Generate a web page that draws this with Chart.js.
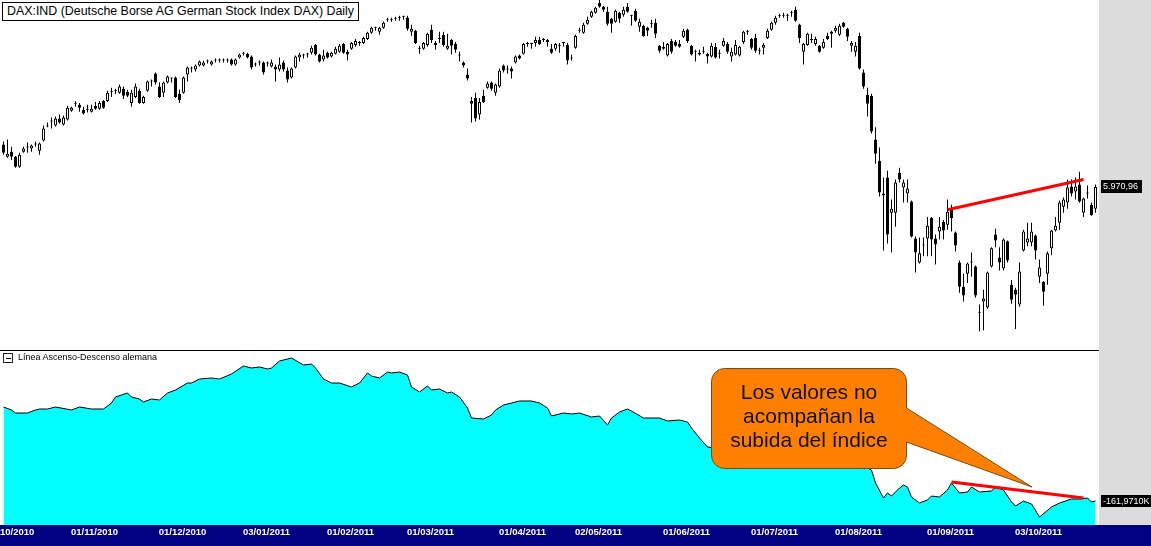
<!DOCTYPE html>
<html>
<head>
<meta charset="utf-8">
<script src="https://cdn.jsdelivr.net/npm/chart.js@4.4.0/dist/chart.umd.min.js"></script>
<style>
  html, body { margin: 0; padding: 0; background: #fff; }
  body { position: relative; width: 1151px; height: 546px; overflow: hidden; font-family: "Liberation Sans", Arial, sans-serif; }
  #side { position: absolute; left: 1099px; top: 0; width: 52px; height: 525px; background: #dcdcdc; }
  #axisband { position: absolute; left: 0; top: 525px; width: 1151px; height: 21px; background: #000080; }
  #sep { position: absolute; left: 0; top: 350px; width: 1099px; height: 1px; background: #000; }
  canvas { position: absolute; left: 0; }
  #price { top: 0; }
  #breadth { top: 351px; }
  #title { position: absolute; left: 2px; top: 2px; width: 357px; height: 19px; box-sizing: border-box;
           border: 1px solid #000; background: #fff; font-size: 12.4px; line-height: 17px; padding-left: 4px; color: #000; white-space: nowrap; }
  #legend { position: absolute; left: 3px; top: 352px; font-size: 9px; line-height: 11px; color: #000; white-space: nowrap; }
  #legend .box { position: absolute; left: 0; top: 1px; width: 10px; height: 10px; box-sizing: border-box; border: 1px solid #222; }
  #legend .box::after { content: ""; position: absolute; left: 2px; top: 4px; width: 5px; height: 1px; background: #000; }
  #legend .txt { position: absolute; left: 15px; top: 0; }
  #callout { position: absolute; left: 0; top: 0; }
  #callout-text { position: absolute; left: 711px; top: 368px; width: 196px; height: 100px; box-sizing: border-box;
                  padding-top: 12px; text-align: center; font-size: 21px; line-height: 24px; color: #111; }
</style>
</head>
<body>
<div id="side"></div>
<div id="axisband"></div>
<div id="sep"></div>
<canvas id="price" width="1151" height="350"></canvas>
<canvas id="breadth" width="1151" height="195"></canvas>
<div id="title">DAX:IND (Deutsche Borse AG German Stock Index DAX) Daily</div>
<div id="legend"><span class="box"></span><span class="txt">Línea Ascenso-Descenso alemana</span></div>
<svg id="callout" width="1151" height="546">
  <rect x="711.5" y="368.5" width="195" height="100" rx="13" ry="13" fill="#ff8000" stroke="#7a4a14" stroke-width="1"/>
  <polygon points="900,403.9 1032,487 900,439.7" fill="#ff8000"/>
  <line x1="906.5" y1="408" x2="1032" y2="487" stroke="#7a4a14" stroke-width="1"/>
  <line x1="906.5" y1="442" x2="1032" y2="487" stroke="#7a4a14" stroke-width="1"/>
</svg>
<div id="callout-text">Los valores no<br>acompañan la<br>subida del índice</div>

<script>
// ── DAX daily candles + German advance/decline line, Sep 2010 – Oct 2011 ──────

// trading days (weekdays, minus the Xetra holidays in the window)
const holidays = ['2010-12-24', '2010-12-31', '2011-04-22', '2011-04-25'];

const opens = [
  6309, 6209, 6251, 6209, 6130, 6251, 6284, 6276, 6309, 6259, 6342, 6459, 6501, 6467, 6526, 6476, 6517, 6592, 6651, 6642,
  6600, 6600, 6584, 6634, 6609, 6676, 6676, 6756, 6765, 6747, 6783, 6756, 6659, 6711, 6765, 6659, 6765, 6846, 6918, 6801,
  6747, 6837, 6873, 6882, 6738, 6747, 6909, 6963, 6954, 6990, 6990, 7026, 6999, 7035, 7035, 7035, 7035, 7044, 6999, 7062,
  7098, 7098, 7071, 6999, 7017, 7017, 7008, 6981, 6981, 6954, 7017, 6945, 6882, 6972, 7062, 7080, 7089, 7107, 7179, 7089,
  7044, 7107, 7071, 7098, 7116, 7188, 7116, 7143, 7179, 7197, 7197, 7235, 7292, 7340, 7302, 7340, 7417, 7417, 7427, 7436,
  7446, 7436, 7302, 7311, 7143, 7143, 7179, 7321, 7179, 7235, 7273, 7143, 7225, 7188, 7080, 7017, 6909, 6676, 6702, 6559,
  6720, 6792, 6837, 6747, 6801, 6990, 6954, 6963, 7017, 7080, 7098, 7188, 7188, 7197, 7224, 7224, 7224, 7143, 7143, 7170,
  7197, 7179, 7053, 7152, 7311, 7292, 7379, 7446, 7484, 7580, 7542, 7494, 7427, 7398, 7484, 7465, 7542, 7455, 7503, 7350,
  7359, 7340, 7379, 7388, 7170, 7143, 7080, 7215, 7206, 7188, 7254, 7321, 7170, 7116, 7107, 7116, 7098, 7071, 7161, 7098,
  7170, 7188, 7071, 7089, 7080, 7206, 7302, 7235, 7244, 7125, 7152, 7244, 7321, 7388, 7455, 7455, 7455, 7484, 7513, 7369,
  7116, 7179, 7225, 7188, 7170, 7152, 7263, 7283, 7311, 7273, 7388, 7331, 7170, 7116, 7263, 6927, 6729, 6720, 6351, 6176,
  5906, 6045, 5775, 5775, 6083, 5968, 5921, 5860, 5586, 5415, 5536, 5586, 5736, 5586, 5636, 5707, 5686, 5798, 5629, 5415,
  5247, 5337, 5415, 5386, 5073, 5147, 5107, 5386, 5614, 5450, 5372, 5565, 5260, 5227, 5127, 5500, 5557, 5557, 5607, 5315,
  5280, 5337, 5515, 5643, 5700, 5821, 5852, 5975, 5937, 5991, 5775, 5921, 5836, 5806
];
const highs = [
  6334, 6351, 6292, 6217, 6242, 6292, 6326, 6309, 6334, 6326, 6467, 6492, 6534, 6542, 6559, 6551, 6634, 6626, 6676, 6659,
  6626, 6642, 6642, 6667, 6676, 6684, 6765, 6792, 6783, 6819, 6801, 6774, 6774, 6828, 6783, 6720, 6855, 6864, 6927, 6837,
  6846, 6900, 6882, 6891, 6774, 6891, 6981, 6981, 6999, 7035, 7035, 7044, 7035, 7053, 7053, 7053, 7053, 7053, 7053, 7098,
  7116, 7107, 7080, 7017, 7035, 7026, 7026, 7044, 6999, 7062, 7035, 6972, 6972, 7080, 7107, 7098, 7107, 7170, 7188, 7098,
  7134, 7116, 7116, 7161, 7188, 7197, 7134, 7206, 7235, 7215, 7254, 7302, 7350, 7350, 7350, 7398, 7436, 7436, 7446, 7455,
  7455, 7455, 7369, 7321, 7170, 7206, 7292, 7369, 7215, 7302, 7302, 7283, 7235, 7206, 7116, 7026, 6963, 6711, 6747, 6702,
  6774, 6846, 6846, 6828, 6963, 6999, 6990, 6981, 7080, 7089, 7197, 7206, 7197, 7254, 7254, 7244, 7235, 7188, 7197, 7197,
  7206, 7197, 7089, 7273, 7340, 7388, 7446, 7503, 7542, 7609, 7551, 7542, 7436, 7513, 7494, 7542, 7580, 7465, 7523, 7427,
  7369, 7350, 7417, 7427, 7179, 7206, 7197, 7235, 7224, 7224, 7331, 7331, 7179, 7134, 7134, 7161, 7107, 7197, 7197, 7134,
  7244, 7206, 7152, 7224, 7170, 7311, 7321, 7244, 7283, 7152, 7197, 7331, 7398, 7455, 7475, 7484, 7475, 7503, 7542, 7379,
  7197, 7292, 7283, 7254, 7179, 7235, 7292, 7311, 7359, 7379, 7398, 7340, 7215, 7206, 7292, 6954, 6792, 6738, 6451, 6284,
  6045, 6099, 5875, 6029, 6122, 6029, 6029, 5867, 5600, 5593, 5593, 5744, 5744, 5614, 5744, 5721, 5875, 5836, 5636, 5429,
  5337, 5415, 5486, 5393, 5127, 5227, 5351, 5522, 5657, 5522, 5586, 5572, 5293, 5240, 5415, 5650, 5700, 5700, 5614, 5436,
  5287, 5493, 5650, 5744, 5867, 5890, 6029, 6029, 6045, 6091, 5890, 5983, 5852, 5991
];
const lows = [
  6226, 6201, 6184, 6122, 6122, 6242, 6242, 6251, 6292, 6226, 6334, 6451, 6442, 6459, 6484, 6467, 6509, 6584, 6626, 6584,
  6559, 6576, 6576, 6600, 6600, 6609, 6667, 6711, 6738, 6738, 6693, 6711, 6626, 6702, 6651, 6651, 6756, 6801, 6819, 6702,
  6711, 6828, 6837, 6702, 6659, 6738, 6846, 6927, 6936, 6981, 6981, 7008, 6990, 7017, 7017, 7017, 7017, 6990, 6990, 7053,
  7080, 7053, 6954, 6981, 6990, 6909, 6981, 6972, 6846, 6936, 6936, 6837, 6873, 6963, 7026, 7053, 7062, 7089, 7080, 7017,
  7026, 7053, 7062, 7089, 7107, 7098, 7035, 7134, 7161, 7170, 7188, 7225, 7283, 7311, 7273, 7331, 7398, 7398, 7407, 7407,
  7417, 7311, 7263, 7188, 7098, 7134, 7161, 7197, 7134, 7197, 7161, 7134, 7089, 7107, 7026, 6972, 6855, 6492, 6501, 6517,
  6659, 6783, 6765, 6720, 6792, 6927, 6918, 6873, 7008, 7044, 7089, 7161, 7143, 7161, 7179, 7206, 7161, 7098, 7125, 7107,
  7161, 6999, 7035, 7143, 7292, 7283, 7369, 7436, 7475, 7532, 7494, 7359, 7292, 7388, 7388, 7446, 7484, 7359, 7398, 7302,
  7254, 7263, 7340, 7244, 7107, 7134, 7071, 7098, 7161, 7152, 7244, 7197, 7080, 7026, 7080, 7098, 7008, 7062, 7053, 7053,
  7161, 7098, 7026, 7080, 7071, 7188, 7273, 7134, 7107, 7089, 7089, 7235, 7311, 7369, 7436, 7436, 7407, 7446, 7398, 7197,
  6999, 7170, 7197, 7170, 7107, 7143, 7225, 7152, 7292, 7263, 7340, 7215, 7116, 7071, 6954, 6783, 6542, 6401, 6153, 5898,
  5500, 5550, 5486, 5672, 6006, 5852, 5852, 5593, 5344, 5408, 5458, 5458, 5458, 5401, 5579, 5579, 5650, 5636, 5493, 5207,
  5147, 5273, 5315, 5173, 4953, 4960, 5100, 5379, 5522, 5358, 5358, 5415, 5133, 4967, 5113, 5493, 5529, 5529, 5436, 5273,
  5120, 5260, 5465, 5636, 5650, 5775, 5806, 5898, 5875, 5852, 5744, 5883, 5752, 5775
];
const closes = [
  6242, 6234, 6209, 6130, 6226, 6276, 6292, 6301, 6317, 6317, 6442, 6467, 6509, 6526, 6492, 6534, 6617, 6617, 6659, 6617,
  6567, 6600, 6609, 6609, 6659, 6617, 6747, 6765, 6765, 6801, 6720, 6720, 6747, 6801, 6659, 6711, 6846, 6846, 6837, 6711,
  6837, 6891, 6873, 6711, 6684, 6882, 6972, 6963, 6990, 7026, 7017, 7026, 7026, 7035, 7044, 7035, 7035, 6999, 7044, 7089,
  7098, 7062, 6972, 6999, 7017, 6927, 7008, 7017, 6954, 6999, 6954, 6864, 6963, 7071, 7089, 7080, 7089, 7152, 7089, 7026,
  7080, 7062, 7107, 7143, 7170, 7107, 7089, 7197, 7215, 7197, 7244, 7292, 7340, 7340, 7340, 7388, 7417, 7417, 7427, 7436,
  7446, 7331, 7331, 7197, 7143, 7197, 7283, 7225, 7197, 7235, 7179, 7170, 7170, 7134, 7080, 6990, 6873, 6651, 6526, 6667,
  6667, 6828, 6783, 6819, 6945, 6945, 6954, 6936, 7071, 7053, 7188, 7188, 7188, 7224, 7188, 7224, 7206, 7107, 7188, 7170,
  7197, 7035, 7053, 7263, 7311, 7369, 7417, 7494, 7532, 7542, 7513, 7379, 7379, 7503, 7427, 7513, 7494, 7455, 7407, 7398,
  7263, 7311, 7379, 7283, 7125, 7161, 7188, 7116, 7170, 7161, 7311, 7215, 7089, 7116, 7089, 7116, 7071, 7170, 7062, 7098,
  7215, 7116, 7116, 7179, 7161, 7302, 7302, 7152, 7125, 7125, 7179, 7311, 7388, 7436, 7455, 7455, 7455, 7484, 7407, 7244,
  7188, 7283, 7225, 7235, 7116, 7206, 7235, 7302, 7340, 7359, 7350, 7254, 7197, 7170, 6963, 6801, 6651, 6417, 6234, 5929,
  5921, 5614, 5806, 6006, 6029, 6006, 5960, 5600, 5486, 5479, 5536, 5679, 5579, 5543, 5672, 5643, 5782, 5736, 5536, 5247,
  5187, 5408, 5415, 5187, 5073, 5167, 5344, 5515, 5572, 5415, 5579, 5429, 5160, 5193, 5351, 5636, 5586, 5636, 5500, 5379,
  5213, 5479, 5643, 5679, 5852, 5875, 5968, 5921, 5975, 5860, 5883, 5921, 5759, 5970.96
];

// advance/decline line, thousands, read at these trading-day indexes
const adIdx = [
  0, 2, 3, 6, 8, 9, 11, 13, 17, 19, 22, 25, 27, 28, 31, 32, 34, 35, 37, 39,
  41, 43, 46, 47, 49, 52, 54, 57, 60, 62, 64, 66, 67, 69, 72, 75, 77, 78, 80, 82,
  84, 87, 89, 91, 92, 94, 96, 97, 99, 101, 102, 104, 106, 107, 109, 111, 112, 114, 116, 117,
  120, 122, 123, 125, 127, 129, 132, 134, 136, 137, 140, 142, 144, 147, 149, 151, 152, 154, 156, 157,
  160, 164, 166, 169, 171, 172, 174, 176, 180, 185, 190, 195, 200, 205, 210, 214, 217, 218, 220, 221,
  222, 224, 225, 226, 227, 229, 231, 232, 234, 236, 237, 239, 241, 242, 244, 247, 248, 250, 252, 253,
  255, 257, 259, 262, 264, 267, 269, 271, 272, 273
];
const adVal = [
  -68, -71, -74, -74, -71, -70, -70, -68, -71, -68, -70, -70, -64, -58, -54, -58, -60, -63, -60, -61,
  -54, -51, -44, -44, -40, -39, -40, -35, -27, -29, -28, -30, -29, -22, -19, -26, -25, -29, -40, -44,
  -44, -48, -44, -34, -37, -39, -33, -34, -33, -36, -48, -53, -47, -51, -50, -54, -53, -58, -69, -79,
  -80, -76, -71, -66, -64, -62, -62, -64, -69, -77, -74, -75, -74, -78, -77, -86, -79, -73, -70, -72,
  -79, -79, -82, -81, -83, -89, -99, -108, -110, -105, -108, -103, -110, -112, -115, -125, -131, -144, -159, -154,
  -157, -149, -146, -148, -158, -164, -161, -157, -158, -151, -144, -154, -153, -148, -153, -152, -148, -151, -163, -167,
  -162, -165, -178, -168, -164, -160, -160, -159, -163, -161.971
];

// hand-drawn trend lines (start / end trading day)
const priceTrendIdx = [236, 270];
const priceTrendVal = [5798, 6029];
const adTrendIdx = [237, 270];
const adTrendVal = [-143, -159];

const dates = [];
for (let d = new Date(Date.UTC(2010, 8, 30)); dates.length < closes.length; d.setUTCDate(d.getUTCDate() + 1)) {
    const iso = d.toISOString().slice(0, 10);
    const wd = d.getUTCDay();
    if (wd === 0 || wd === 6 || holidays.includes(iso)) continue;
    dates.push(iso.slice(8, 10) + '/' + iso.slice(5, 7) + '/' + iso.slice(0, 4));
}

const FONT = '"Liberation Sans", Arial, sans-serif';
const PAD = { left: 1.5, right: 53.5, top: 0, bottom: 0 };

// black tag with the last value, on the grey strip right of the plot
const lastValueTag = {
    id: 'lastValueTag',
    afterDraw(chart, args, opts) {
        const { ctx, chartArea, scales } = chart;
        const y = Math.round(scales.y.getPixelForValue(opts.value));
        ctx.save();
        ctx.fillStyle = '#000';
        ctx.fillRect(chartArea.right + 3.5, y - opts.up, opts.width, opts.height);
        ctx.fillStyle = '#fff';
        ctx.font = '9px ' + FONT;
        ctx.textBaseline = 'middle';
        ctx.fillText(opts.text, chartArea.right + 5.5, y - opts.up + opts.height / 2 + 0.5);
        ctx.restore();
    }
};

const bodyColors = closes.map((c, i) => c > opens[i] ? '#ffffff' : '#000000');

new Chart(document.getElementById('price'), {
    type: 'bar',
    data: {
        labels: dates,
        datasets: [
            {
                type: 'line',
                data: priceTrendIdx.map((k, i) => ({ x: dates[k], y: priceTrendVal[i] })),
                borderColor: '#ff0000',
                borderWidth: 3,
                pointRadius: 0,
                order: 0
            },
            {
                data: opens.map((o, i) => [o, closes[i]]),
                backgroundColor: bodyColors,
                borderColor: '#000',
                borderWidth: 1,
                borderSkipped: false,
                barThickness: 3,
                minBarLength: 1,
                inflateAmount: 0,
                grouped: false,
                order: 1
            },
            {
                data: lows.map((l, i) => [l, highs[i]]),
                backgroundColor: '#000',
                borderWidth: 0,
                barThickness: 1,
                inflateAmount: 0,
                grouped: false,
                order: 2
            }
        ]
    },
    options: {
        responsive: false,
        animation: false,
        events: [],
        devicePixelRatio: 1,
        layout: { padding: PAD, autoPadding: false },
        plugins: {
            legend: { display: false },
            tooltip: { enabled: false },
            lastValueTag: {
                value: closes[closes.length - 1],
                text: closes[closes.length - 1].toLocaleString('de-DE', { minimumFractionDigits: 2 }),
                width: 41, height: 13, up: 7
            }
        },
        scales: {
            x: { type: 'category', display: false, offset: true },
            y: { type: 'logarithmic', display: false, min: 4834, max: 7609 }
        }
    },
    plugins: [lastValueTag]
});

const lastAd = adVal[adVal.length - 1];

new Chart(document.getElementById('breadth'), {
    type: 'line',
    data: {
        labels: dates,
        datasets: [
            {
                data: adTrendIdx.map((k, i) => ({ x: dates[k], y: adTrendVal[i] })),
                borderColor: '#ff0000',
                borderWidth: 3,
                pointRadius: 0,
                order: 0
            },
            {
                data: adIdx.map((k, i) => ({ x: dates[k], y: adVal[i] })),
                borderColor: '#000',
                borderWidth: 1,
                backgroundColor: '#00ffff',
                fill: 'start',
                pointRadius: 0,
                tension: 0,
                order: 1
            }
        ]
    },
    options: {
        responsive: false,
        animation: false,
        events: [],
        devicePixelRatio: 1,
        layout: { padding: PAD, autoPadding: false },
        plugins: {
            legend: { display: false },
            tooltip: { enabled: false },
            lastValueTag: {
                value: lastAd,
                text: lastAd.toLocaleString('de-DE', { minimumFractionDigits: 4 }) + 'K',
                width: 60, height: 12, up: 6
            }
        },
        scales: {
            x: {
                type: 'category',
                offset: true,
                grid: { display: false, drawTicks: false },
                border: { display: false },
                ticks: {
                    autoSkip: false,
                    maxRotation: 0,
                    color: '#ffffff',
                    padding: 2,
                    labelOffset: 3,
                    font: { family: FONT, size: 9.5, weight: 'bold' },
                    callback: (value, index) => {
                        if (index === 0) return null;
                        return dates[index].slice(3) !== dates[index - 1].slice(3) ? dates[index] : null;
                    }
                },
                // keep the plot edge fixed: the first date label may run off the left side
                afterFit: scale => {
                    scale.height = 21;
                    scale.paddingLeft = 0;
                    scale.paddingRight = 0;
                }
            },
            y: { display: false, min: -186, max: -12 }
        }
    },
    plugins: [lastValueTag]
});
</script>
</body>
</html>
